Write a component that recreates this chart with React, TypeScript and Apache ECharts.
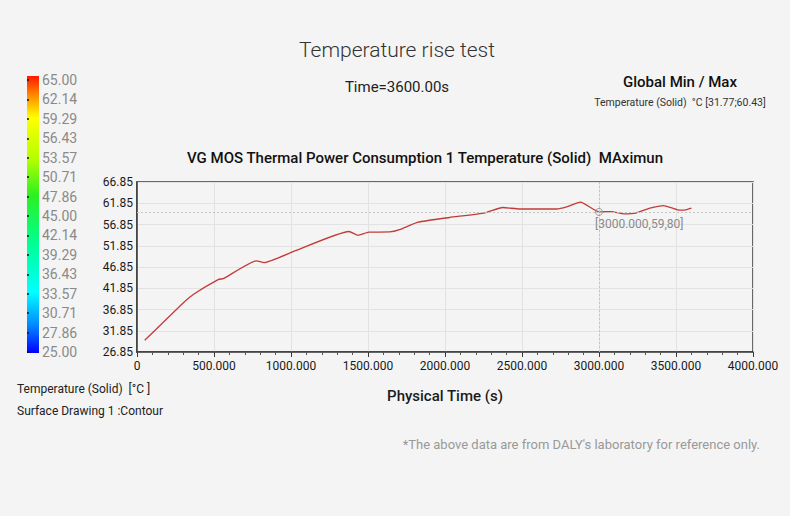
import React, { useEffect, useRef } from "react";
import * as echarts from "echarts";

const timeS = [50, 300, 370, 530, 560, 775, 825, 1030, 1376, 1435, 1505, 1640, 1705, 1825, 2030, 2260, 2375, 2485, 2725, 2790, 2880, 3000, 3080, 3160, 3245, 3330, 3420, 3510, 3555, 3600];
const tempC = [29.6, 38.4, 40.5, 43.95, 44.1, 48.3, 47.9, 50.7, 55.2, 54.3, 55.05, 55.1, 55.65, 57.4, 58.5, 59.6, 60.85, 60.5, 60.5, 61.0, 62.1, 59.8, 59.9, 59.35, 59.6, 60.7, 61.3, 60.3, 60.25, 60.7];
const yTicks = [26.85, 31.85, 36.85, 41.85, 46.85, 51.85, 56.85, 61.85, 66.85];
const barTicks = [25.0, 27.86, 30.71, 33.57, 36.43, 39.29, 42.14, 45.0, 47.86, 50.71, 53.57, 56.43, 59.29, 62.14, 65.0];
const probe = [3000, 59.8];
const probeLabel = "[3000.000,59,80]";

const FONT = "Roboto";

export default function App() {
  const ref = useRef<HTMLDivElement>(null);
  useEffect(() => {
    document.body.style.margin = "0";
    document.body.style.background = "#f4f4f4";
    const chart = echarts.init(ref.current!, null, { renderer: "svg" });
    const data = timeS.map((t, i) => [t, tempC[i]]);
    chart.setOption({
      animation: false,
      backgroundColor: "#f4f4f4",
      textStyle: { fontFamily: FONT },
      grid: [
        { left: 137, right: 37, top: 182, bottom: 164, show: true, borderColor: "#3a3a3a", borderWidth: 1.5, backgroundColor: "transparent" },
        { left: 27, top: 80, width: 12, height: 272 },
      ],
      xAxis: [
        {
          type: "value", gridIndex: 0, min: 0, max: 4000, interval: 500,
          name: "Physical Time (s)", nameLocation: "middle", nameGap: 36,
          nameTextStyle: { fontSize: 15, color: "#1a1a1a", fontWeight: 500, fontFamily: FONT },
          axisLine: { show: true, lineStyle: { color: "#3a3a3a", width: 1.5 } },
          axisTick: { show: true, length: 5, lineStyle: { color: "#3a3a3a" } },
          minorTick: { show: true, splitNumber: 5, length: 3, lineStyle: { color: "#555" } },
          axisLabel: { color: "#1a1a1a", fontSize: 12, margin: 8, formatter: (v: number) => (v === 0 ? "0" : v.toFixed(3)) },
          splitLine: { show: true, lineStyle: { color: "#e2e2e2", width: 1 } },
        },
        { type: "value", gridIndex: 1, min: 0, max: 1, show: false },
      ],
      yAxis: [
        {
          type: "value", gridIndex: 0, min: 26.85, max: 66.85,
          axisLine: { show: true, lineStyle: { color: "#3a3a3a", width: 1.5 } },
          axisTick: { show: false, customValues: yTicks },
          axisLabel: { color: "#1a1a1a", fontSize: 12, margin: 4, customValues: yTicks, formatter: (v: number) => v.toFixed(2) },
          splitLine: { show: true, customValues: yTicks, lineStyle: { color: "#e2e2e2", width: 1 } },
        },
        {
          type: "value", gridIndex: 1, min: 25, max: 65, position: "right",
          axisLine: { show: false },
          axisTick: { show: true, length: 2, customValues: barTicks, lineStyle: { color: "#111", width: 1.5 } },
          axisLabel: { color: "#8a8a8a", fontSize: 14, margin: 3, customValues: barTicks, formatter: (v: number) => v.toFixed(2) },
          splitLine: { show: false },
        },
      ],
      graphic: [
        {
          type: "rect", x: 27, y: 76, shape: { width: 12, height: 277 }, z: -1,
          style: {
            fill: new echarts.graphic.LinearGradient(0, 0, 0, 1, [
              { offset: 0, color: "#ff1800" },
              { offset: 0.07, color: "#ff8a00" },
              { offset: 0.15, color: "#ffff00" },
              { offset: 0.3, color: "#b4ff00" },
              { offset: 0.43, color: "#2cf020" },
              { offset: 0.6, color: "#00ff90" },
              { offset: 0.78, color: "#00ffff" },
              { offset: 0.9, color: "#0088ff" },
              { offset: 1, color: "#0000ff" },
            ]),
          },
        },
        { type: "text", x: 397, y: 50, style: { text: "Temperature rise test", font: `300 21px ${FONT}`, fill: "#333", align: "center", verticalAlign: "middle" } },
        { type: "text", x: 397, y: 87, style: { text: "Time=3600.00s", font: `400 15px ${FONT}`, fill: "#222", align: "center", verticalAlign: "middle" } },
        { type: "text", x: 680, y: 82, style: { text: "Global Min / Max", font: `500 15px ${FONT}`, fill: "#111", align: "center", verticalAlign: "middle" } },
        { type: "text", x: 680, y: 102, style: { text: "Temperature (Solid)  °C [31.77;60.43]", font: `400 10.5px ${FONT}`, fill: "#333", align: "center", verticalAlign: "middle" } },
        { type: "text", x: 425, y: 158, style: { text: "VG MOS Thermal Power Consumption 1 Temperature (Solid)  MAximun", font: `500 15px ${FONT}`, fill: "#111", align: "center", verticalAlign: "middle" } },
        { type: "text", x: 17, y: 389, style: { text: "Temperature (Solid)  [°C ]", font: `400 12px ${FONT}`, fill: "#222", align: "left", verticalAlign: "middle" } },
        { type: "text", x: 17, y: 411, style: { text: "Surface Drawing 1 :Contour", font: `400 12px ${FONT}`, fill: "#222", align: "left", verticalAlign: "middle" } },
        { type: "text", x: 760, y: 444, style: { text: "*The above data are from DALY's laboratory for reference only.", font: `400 13px ${FONT}`, fill: "#999", align: "right", verticalAlign: "middle" } },
      ],
      series: [
        {
          type: "line", xAxisIndex: 0, yAxisIndex: 0, data, smooth: 0.15, symbol: "none",
          lineStyle: { color: "#c23b36", width: 1.3 },
          markLine: {
            silent: true, symbol: "none", label: { show: false },
            lineStyle: { color: "#c4c4c4", type: [2, 2], width: 1 },
            data: [{ yAxis: probe[1] }, { xAxis: probe[0] }],
          },
          markPoint: {
            silent: true,
            data: [{ coord: probe, symbol: "circle", symbolSize: 7 }],
            itemStyle: { color: "rgba(0,0,0,0)", borderColor: "#999", borderWidth: 1 },
            label: { show: true, formatter: probeLabel, position: [0, 10], align: "left", verticalAlign: "top", color: "#8a8a8a", fontSize: 12, fontFamily: FONT },
          },
        },
        { type: "line", xAxisIndex: 1, yAxisIndex: 1, data: [] },
      ],
    });
    return () => chart.dispose();
  }, []);
  return <div ref={ref} style={{ width: 790, height: 516 }} />;
}
